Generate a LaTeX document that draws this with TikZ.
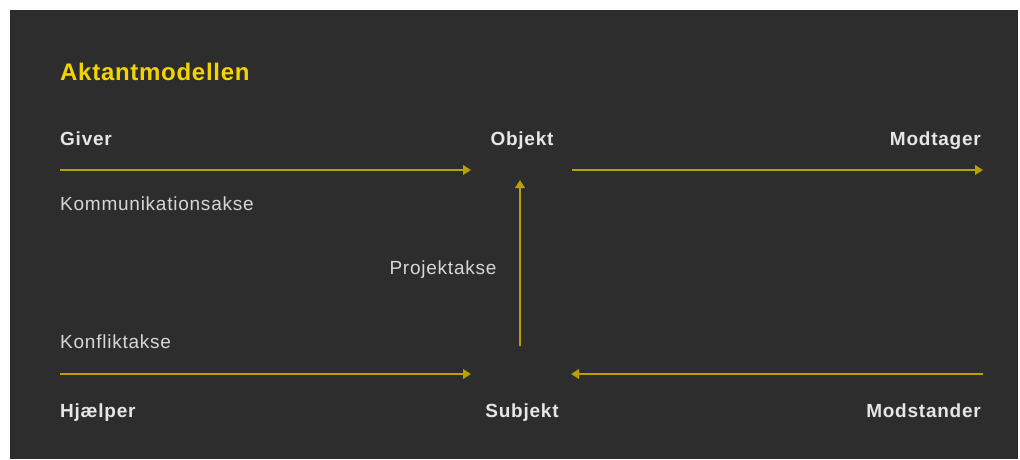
\documentclass[tikz,border=0pt]{standalone}
\usepackage{fontspec}
\setmainfont{Liberation Sans}
\newfontfamily\lblfont[LetterSpace=4]{Liberation Sans}
\newfontfamily\ttlfont[LetterSpace=3]{Liberation Sans}
\usetikzlibrary{arrows.meta}
\definecolor{bg}{HTML}{2D2D2D}
\definecolor{axis}{HTML}{B8A200}
\definecolor{ttl}{HTML}{F2D500}
\definecolor{lbl}{HTML}{E6E6E6}
\begin{document}
\begin{tikzpicture}[x=1pt,y=-1pt,
  role/.style={font=\lblfont\fontsize{19}{21}\selectfont\bfseries, text=lbl, inner sep=0pt},
  axlabel/.style={font=\lblfont\fontsize{19}{21}\selectfont, text=lbl!85!gray, inner sep=0pt},
  axisarrow/.style={draw=axis, line width=2.8pt, -{Triangle[length=8pt,width=9.5pt]}}]
\useasboundingbox (0,0) rectangle (1020,459);
\fill[white] (0,0) rectangle (1020,459);
\fill[bg] (10,10) rectangle (1018,459);
\node[anchor=base west, inner sep=0pt, text=ttl, font=\ttlfont\fontsize{24}{28}\selectfont\bfseries] (title) at (60,80) {Aktantmodellen};
\node[role, anchor=base west] (giver) at (60,145) {Giver};
\node[role, anchor=base] (objekt) at (522,145) {Objekt};
\node[role, anchor=base east] (modtager) at (981,145) {Modtager};
\node[role, anchor=base west] (hjaelper) at (60,417) {Hjælper};
\node[role, anchor=base] (subjekt) at (522,417) {Subjekt};
\node[role, anchor=base east] (modstander) at (981,417) {Modstander};
\node[axlabel, anchor=base west] (komm) at (60,210) {Kommunikationsakse};
\node[axlabel, anchor=base] (proj) at (443,274) {Projektakse};
\node[axlabel, anchor=base west] (konf) at (60,348) {Konfliktakse};
\coordinate (t1) at (60,170); \coordinate (t2) at (471,170);
\coordinate (t3) at (572,170); \coordinate (t4) at (983,170);
\coordinate (b1) at (60,374); \coordinate (b2) at (471,374);
\coordinate (b3) at (983,374); \coordinate (b4) at (571,374);
\coordinate (v1) at (520,346); \coordinate (v2) at (520,180);
\draw[axisarrow] (t1) -- (t2);
\draw[axisarrow] (t3) -- (t4);
\draw[axisarrow] (b1) -- (b2);
\draw[axisarrow] (b3) -- (b4);
\draw[axisarrow] (v1) -- (v2);
\end{tikzpicture}
\end{document}
